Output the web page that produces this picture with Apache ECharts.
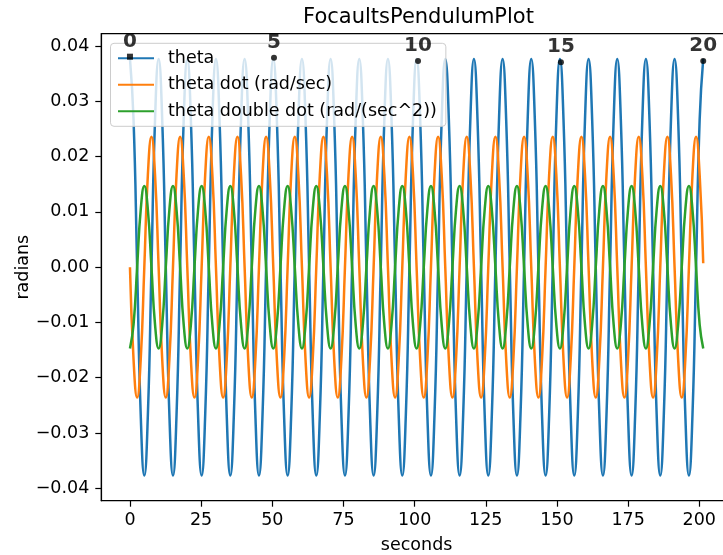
<!DOCTYPE html>
<html>
<head>
<meta charset="utf-8">
<script src="https://cdn.jsdelivr.net/npm/echarts@6/dist/echarts.min.js"></script>
<style>
html,body{margin:0;padding:0;background:#fff;}
#chart{width:723px;height:555px;}
</style>
</head>
<body>
<div id="chart"></div>
<script>
// sample times (seconds), read at 1/8-period steps
const times = [
  0, 1.26, 2.52, 3.78, 5.04, 6.29, 7.55, 8.81,
  10.07, 11.33, 12.59, 13.85, 15.11, 16.36, 17.62, 18.88,
  20.14, 21.40, 22.66, 23.92, 25.18, 26.43, 27.69, 28.95,
  30.21, 31.47, 32.73, 33.99, 35.25, 36.50, 37.76, 39.02,
  40.28, 41.54, 42.80, 44.06, 45.32, 46.57, 47.83, 49.09,
  50.35, 51.61, 52.87, 54.13, 55.39, 56.64, 57.90, 59.16,
  60.42, 61.68, 62.94, 64.20, 65.46, 66.71, 67.97, 69.23,
  70.49, 71.75, 73.01, 74.27, 75.53, 76.78, 78.04, 79.30,
  80.56, 81.82, 83.08, 84.34, 85.60, 86.85, 88.11, 89.37,
  90.63, 91.89, 93.15, 94.41, 95.67, 96.92, 98.18, 99.44,
  100.70, 101.96, 103.22, 104.48, 105.74, 106.99, 108.25, 109.51,
  110.77, 112.03, 113.29, 114.55, 115.81, 117.06, 118.32, 119.58,
  120.84, 122.10, 123.36, 124.62, 125.88, 127.13, 128.39, 129.65,
  130.91, 132.17, 133.43, 134.69, 135.95, 137.20, 138.46, 139.72,
  140.98, 142.24, 143.50, 144.76, 146.02, 147.27, 148.53, 149.79,
  151.05, 152.31, 153.57, 154.83, 156.09, 157.34, 158.60, 159.86,
  161.12, 162.38, 163.64, 164.90, 166.16, 167.41, 168.67, 169.93,
  171.19, 172.45, 173.71, 174.97, 176.23, 177.48, 178.74, 180.00,
  181.26, 182.52, 183.78, 185.04, 186.30, 187.55, 188.81, 190.07,
  191.33, 192.59, 193.85, 195.11, 196.37, 197.62, 198.88, 200.14,
  201.40
];
const theta = [
  0.0377, 0.0267, 0, -0.0267, -0.0377, -0.0267, 0, 0.0267,
  0.0377, 0.0267, 0, -0.0267, -0.0377, -0.0267, 0, 0.0267,
  0.0377, 0.0267, 0, -0.0267, -0.0377, -0.0267, 0, 0.0267,
  0.0377, 0.0267, 0, -0.0267, -0.0377, -0.0267, 0, 0.0267,
  0.0377, 0.0267, 0, -0.0267, -0.0377, -0.0267, 0, 0.0267,
  0.0377, 0.0267, 0, -0.0267, -0.0377, -0.0267, 0, 0.0267,
  0.0377, 0.0267, 0, -0.0267, -0.0377, -0.0267, 0, 0.0267,
  0.0377, 0.0267, 0, -0.0267, -0.0377, -0.0267, 0, 0.0267,
  0.0377, 0.0267, 0, -0.0267, -0.0377, -0.0267, 0, 0.0267,
  0.0377, 0.0267, 0, -0.0267, -0.0377, -0.0267, 0, 0.0267,
  0.0377, 0.0267, 0, -0.0267, -0.0377, -0.0267, 0, 0.0267,
  0.0377, 0.0267, 0, -0.0267, -0.0377, -0.0267, 0, 0.0267,
  0.0377, 0.0267, 0, -0.0267, -0.0377, -0.0267, 0, 0.0267,
  0.0377, 0.0267, 0, -0.0267, -0.0377, -0.0267, 0, 0.0267,
  0.0377, 0.0267, 0, -0.0267, -0.0377, -0.0267, 0, 0.0267,
  0.0377, 0.0267, 0, -0.0267, -0.0377, -0.0267, 0, 0.0267,
  0.0377, 0.0267, 0, -0.0267, -0.0377, -0.0267, 0, 0.0267,
  0.0377, 0.0267, 0, -0.0267, -0.0377, -0.0267, 0, 0.0267,
  0.0377, 0.0267, 0, -0.0267, -0.0377, -0.0267, 0, 0.0267,
  0.0377, 0.0267, 0, -0.0267, -0.0377, -0.0267, 0, 0.0267,
  0.0377
];
const thetaDot = [
  0, -0.0167, -0.0236, -0.0167, 0, 0.0167, 0.0236, 0.0167,
  0, -0.0167, -0.0236, -0.0167, 0, 0.0167, 0.0236, 0.0167,
  0, -0.0167, -0.0236, -0.0167, 0, 0.0167, 0.0236, 0.0167,
  0, -0.0167, -0.0236, -0.0167, 0, 0.0167, 0.0236, 0.0167,
  0, -0.0167, -0.0236, -0.0167, 0, 0.0167, 0.0236, 0.0167,
  0, -0.0167, -0.0236, -0.0167, 0, 0.0167, 0.0236, 0.0167,
  0, -0.0167, -0.0236, -0.0167, 0, 0.0167, 0.0236, 0.0167,
  0, -0.0167, -0.0236, -0.0167, 0, 0.0167, 0.0236, 0.0167,
  0, -0.0167, -0.0236, -0.0167, 0, 0.0167, 0.0236, 0.0167,
  0, -0.0167, -0.0236, -0.0167, 0, 0.0167, 0.0236, 0.0167,
  0, -0.0167, -0.0236, -0.0167, 0, 0.0167, 0.0236, 0.0167,
  0, -0.0167, -0.0236, -0.0167, 0, 0.0167, 0.0236, 0.0167,
  0, -0.0167, -0.0236, -0.0167, 0, 0.0167, 0.0236, 0.0167,
  0, -0.0167, -0.0236, -0.0167, 0, 0.0167, 0.0236, 0.0167,
  0, -0.0167, -0.0236, -0.0167, 0, 0.0167, 0.0236, 0.0167,
  0, -0.0167, -0.0236, -0.0167, 0, 0.0167, 0.0236, 0.0167,
  0, -0.0167, -0.0236, -0.0167, 0, 0.0167, 0.0236, 0.0167,
  0, -0.0167, -0.0236, -0.0167, 0, 0.0167, 0.0236, 0.0167,
  0, -0.0167, -0.0236, -0.0167, 0, 0.0167, 0.0236, 0.0167,
  0, -0.0167, -0.0236, -0.0167, 0, 0.0167, 0.0236, 0.0167,
  0.0007
];
const thetaDDot = [
  -0.0147, -0.0104, 0, 0.0104, 0.0147, 0.0104, 0, -0.0104,
  -0.0147, -0.0104, 0, 0.0104, 0.0147, 0.0104, 0, -0.0104,
  -0.0147, -0.0104, 0, 0.0104, 0.0147, 0.0104, 0, -0.0104,
  -0.0147, -0.0104, 0, 0.0104, 0.0147, 0.0104, 0, -0.0104,
  -0.0147, -0.0104, 0, 0.0104, 0.0147, 0.0104, 0, -0.0104,
  -0.0147, -0.0104, 0, 0.0104, 0.0147, 0.0104, 0, -0.0104,
  -0.0147, -0.0104, 0, 0.0104, 0.0147, 0.0104, 0, -0.0104,
  -0.0147, -0.0104, 0, 0.0104, 0.0147, 0.0104, 0, -0.0104,
  -0.0147, -0.0104, 0, 0.0104, 0.0147, 0.0104, 0, -0.0104,
  -0.0147, -0.0104, 0, 0.0104, 0.0147, 0.0104, 0, -0.0104,
  -0.0147, -0.0104, 0, 0.0104, 0.0147, 0.0104, 0, -0.0104,
  -0.0147, -0.0104, 0, 0.0104, 0.0147, 0.0104, 0, -0.0104,
  -0.0147, -0.0104, 0, 0.0104, 0.0147, 0.0104, 0, -0.0104,
  -0.0147, -0.0104, 0, 0.0104, 0.0147, 0.0104, 0, -0.0104,
  -0.0147, -0.0104, 0, 0.0104, 0.0147, 0.0104, 0, -0.0104,
  -0.0147, -0.0104, 0, 0.0104, 0.0147, 0.0104, 0, -0.0104,
  -0.0147, -0.0104, 0, 0.0104, 0.0147, 0.0104, 0, -0.0104,
  -0.0147, -0.0104, 0, 0.0104, 0.0147, 0.0104, 0, -0.0104,
  -0.0147, -0.0104, 0, 0.0104, 0.0147, 0.0104, 0, -0.0104,
  -0.0147, -0.0104, 0, 0.0104, 0.0147, 0.0104, 0, -0.0104,
  -0.0147
];
// hand-written peak counter annotations
const peakTimes = [0, 50.6, 101.2, 151.4, 201.4];
const peakValues = [0.0381, 0.0379, 0.0373, 0.0371, 0.0373];
const peakLabels = ['0', '5', '10', '15', '20'];

const xTicks = [0, 25, 50, 75, 100, 125, 150, 175, 200];
const yTicks = [-0.04, -0.03, -0.02, -0.01, 0, 0.01, 0.02, 0.03, 0.04];
const seriesNames = ['theta', 'theta dot (rad/sec)', 'theta double dot (rad/(sec^2))'];
const colors = ['#1f77b4', '#ff7f0e', '#2ca02c'];

const FONT = 'DejaVu Sans';
const pair = (vals) => times.map((t, i) => [t, vals[i]]);
const lineSeries = [theta, thetaDot, thetaDDot].map((vals, k) => ({
  name: seriesNames[k],
  type: 'line',
  data: pair(vals),
  smooth: 0.5,
  showSymbol: false,
  symbol: 'none',
  lineStyle: { color: colors[k], width: 2.5 },
  itemStyle: { color: colors[k] },
  z: 2 + k
}));

const chart = echarts.init(document.getElementById('chart'), null, { renderer: 'canvas' });
chart.setOption({
  animation: false,
  backgroundColor: '#ffffff',
  title: {
    text: 'FocaultsPendulumPlot',
    left: 418.5,
    textAlign: 'center',
    top: 0,
    padding: [7, 0, 0, 0],
    textStyle: { fontFamily: FONT, fontSize: 21, fontWeight: 'normal', color: '#000' }
  },
  grid: {
    left: 101.3, top: 33.7, width: 630.6, height: 467,
    show: true, borderColor: '#000', borderWidth: 1.2, backgroundColor: 'transparent',
    containLabel: false, outerBoundsMode: 'none'
  },
  legend: {
    data: seriesNames,
    orient: 'vertical',
    left: 110.5, top: 43.3,
    padding: [6, 9, 6, 6.5],
    itemWidth: 36, itemHeight: 17,
    itemGap: 8.5,
    itemStyle: { opacity: 0 },
    backgroundColor: 'rgba(255,255,255,0.8)',
    borderColor: '#cccccc', borderWidth: 1, borderRadius: 3.5,
    textStyle: { fontFamily: FONT, fontSize: 17.5, color: '#000', padding: [0, 0, 0, 9] },
    z: 5
  },
  xAxis: {
    type: 'value',
    min: -10.07, max: 211.47,
    name: 'seconds',
    nameLocation: 'middle',
    nameGap: 36,
    nameMoveOverlap: false,
    nameTextStyle: { fontFamily: FONT, fontSize: 17.5, color: '#000' },
    axisLine: { show: true, onZero: false, lineStyle: { color: '#000', width: 1.2 } },
    axisTick: { show: true, inside: false, length: 6, customValues: xTicks, lineStyle: { color: '#000', width: 1.2 } },
    axisLabel: { customValues: xTicks, margin: 11, fontFamily: FONT, fontSize: 17.5, color: '#000' },
    splitLine: { show: false }
  },
  yAxis: {
    type: 'value',
    min: -0.04226, max: 0.04226,
    name: 'radians',
    nameLocation: 'middle',
    nameRotate: 90,
    nameGap: 69,
    nameMoveOverlap: false,
    nameTextStyle: { fontFamily: FONT, fontSize: 17.5, color: '#000' },
    axisLine: { show: true, onZero: false, lineStyle: { color: '#000', width: 1.2 } },
    axisTick: { show: true, inside: false, length: 6, customValues: yTicks, lineStyle: { color: '#000', width: 1.2 } },
    axisLabel: {
      customValues: yTicks, margin: 12, fontFamily: FONT, fontSize: 17.5, color: '#000',
      formatter: (v) => (v < -1e-9 ? '\u2212' : '') + Math.abs(v).toFixed(2)
    },
    splitLine: { show: false }
  },
  series: lineSeries.concat([{
    name: 'peaks',
    type: 'scatter',
    data: peakTimes.map((t, i) => ({
      value: [t, peakValues[i]],
      symbol: i === 0 ? 'rect' : 'circle'
    })),
    symbolSize: 6,
    itemStyle: { color: '#000' },
    label: {
      show: true,
      position: 'top',
      distance: 2,
      formatter: (p) => peakLabels[p.dataIndex],
      fontFamily: FONT, fontSize: 20, fontWeight: 'bold', color: '#000'
    },
    z: 10
  }])
});
</script>
</body>
</html>
